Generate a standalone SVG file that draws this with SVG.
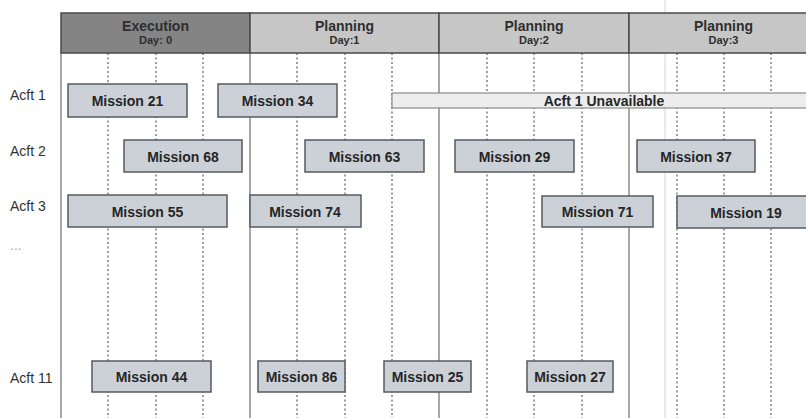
<svg xmlns="http://www.w3.org/2000/svg" width="806" height="418" viewBox="0 0 806 418">
<style>
  .hdr-exec { fill: #848484; stroke: #4a4a4a; stroke-width: 1.5; }
  .hdr-plan { fill: #c6c6c6; stroke: #4a4a4a; stroke-width: 1.5; }
  .htitle { font-family: "Liberation Sans", Arial, sans-serif; font-weight: bold; font-size: 14px; fill: #2e2e2e; text-anchor: middle; }
  .hday { font-family: "Liberation Sans", Arial, sans-serif; font-weight: bold; font-size: 11px; fill: #2e2e2e; text-anchor: middle; }
  .divider { stroke: #6e6e6e; stroke-width: 1.2; }
  .dash { stroke: #6a6a6a; stroke-width: 1.3; stroke-dasharray: 2 2.5; }
  .mission { fill: #ccd1d8; stroke: #555a60; stroke-width: 1.5; }
  .mtext { font-family: "Liberation Sans", Arial, sans-serif; font-weight: bold; font-size: 14px; fill: #262626; text-anchor: middle; }
  .unavail { fill: #ededed; stroke: #8a8a8a; stroke-width: 1.2; }
  .rowlabel { font-family: "Liberation Sans", Arial, sans-serif; font-size: 14px; fill: #333333; }
</style>
<rect x="0" y="0" width="806" height="418" fill="#ffffff"/>
<line x1="665" y1="0" x2="665" y2="418" stroke="#f4e4f0" stroke-width="2"/>

<!-- grid lines -->
<g id="grid">
  <line class="divider" x1="61" y1="53" x2="61" y2="418"/>
  <line class="divider" x1="250" y1="53" x2="250" y2="418"/>
  <line class="divider" x1="439" y1="53" x2="439" y2="418"/>
  <line class="divider" x1="629" y1="53" x2="629" y2="418"/>
  <line class="dash" x1="108" y1="53" x2="108" y2="418"/>
  <line class="dash" x1="156" y1="53" x2="156" y2="418"/>
  <line class="dash" x1="203" y1="53" x2="203" y2="418"/>
  <line class="dash" x1="297" y1="53" x2="297" y2="418"/>
  <line class="dash" x1="345" y1="53" x2="345" y2="418"/>
  <line class="dash" x1="392" y1="53" x2="392" y2="418"/>
  <line class="dash" x1="487" y1="53" x2="487" y2="418"/>
  <line class="dash" x1="534" y1="53" x2="534" y2="418"/>
  <line class="dash" x1="582" y1="53" x2="582" y2="418"/>
  <line class="dash" x1="677" y1="53" x2="677" y2="418"/>
  <line class="dash" x1="724" y1="53" x2="724" y2="418"/>
  <line class="dash" x1="771" y1="53" x2="771" y2="418"/>
</g>

<!-- header -->
<g id="header-day0">
  <rect class="hdr-exec" x="61" y="13" width="189" height="40"/>
  <text class="htitle" x="155.5" y="31">Execution</text>
  <text class="hday" x="155.5" y="44">Day: 0</text>
</g>
<g id="header-day1">
  <rect class="hdr-plan" x="250" y="13" width="189" height="40"/>
  <text class="htitle" x="344.5" y="31">Planning</text>
  <text class="hday" x="344.5" y="44">Day:1</text>
</g>
<g id="header-day2">
  <rect class="hdr-plan" x="439" y="13" width="190" height="40"/>
  <text class="htitle" x="534" y="31">Planning</text>
  <text class="hday" x="534" y="44">Day:2</text>
</g>
<g id="header-day3">
  <rect class="hdr-plan" x="629" y="13" width="190" height="40"/>
  <text class="htitle" x="723.5" y="31">Planning</text>
  <text class="hday" x="723.5" y="44">Day:3</text>
</g>

<!-- row labels -->
<g id="row-labels">
  <text class="rowlabel" x="10" y="100">Acft 1</text>
  <text class="rowlabel" x="10" y="156">Acft 2</text>
  <text class="rowlabel" x="10" y="211">Acft 3</text>
  <text class="rowlabel" x="10" y="250" style="fill:#aaaaaa">...</text>
  <text class="rowlabel" x="10" y="383">Acft 11</text>
</g>

<!-- Acft 1 -->
<g id="mission-21"><rect class="mission" x="68" y="84" width="119" height="33"/><text class="mtext" x="127.5" y="106">Mission 21</text></g>
<g id="mission-34"><rect class="mission" x="218" y="84" width="119" height="33"/><text class="mtext" x="277.5" y="106">Mission 34</text></g>
<g id="acft1-unavailable"><rect class="unavail" x="392" y="93" width="420" height="15"/><text class="mtext" x="604" y="105.5">Acft 1 Unavailable</text></g>

<!-- Acft 2 -->
<g id="mission-68"><rect class="mission" x="124" y="140" width="118" height="32"/><text class="mtext" x="183" y="161.5">Mission 68</text></g>
<g id="mission-63"><rect class="mission" x="305" y="140" width="119" height="32"/><text class="mtext" x="364.5" y="161.5">Mission 63</text></g>
<g id="mission-29"><rect class="mission" x="455" y="140" width="119" height="32"/><text class="mtext" x="514.5" y="161.5">Mission 29</text></g>
<g id="mission-37"><rect class="mission" x="637" y="140" width="118" height="32"/><text class="mtext" x="696" y="161.5">Mission 37</text></g>

<!-- Acft 3 -->
<g id="mission-55"><rect class="mission" x="68" y="195" width="159" height="32"/><text class="mtext" x="147.5" y="216.5">Mission 55</text></g>
<g id="mission-74"><rect class="mission" x="250" y="195" width="111" height="32"/><text class="mtext" x="305" y="216.5">Mission 74</text></g>
<g id="mission-71"><rect class="mission" x="542" y="196" width="111" height="31"/><text class="mtext" x="597.5" y="217">Mission 71</text></g>
<g id="mission-19"><rect class="mission" x="677" y="196" width="140" height="32"/><text class="mtext" x="746" y="217.5">Mission 19</text></g>

<!-- Acft 11 -->
<g id="mission-44"><rect class="mission" x="92" y="361" width="119" height="31"/><text class="mtext" x="151.5" y="382">Mission 44</text></g>
<g id="mission-86"><rect class="mission" x="258" y="361" width="87" height="31"/><text class="mtext" x="301.5" y="382">Mission 86</text></g>
<g id="mission-25"><rect class="mission" x="384" y="361" width="87" height="31"/><text class="mtext" x="427.5" y="382">Mission 25</text></g>
<g id="mission-27"><rect class="mission" x="527" y="361" width="86" height="31"/><text class="mtext" x="570" y="382">Mission 27</text></g>
</svg>
